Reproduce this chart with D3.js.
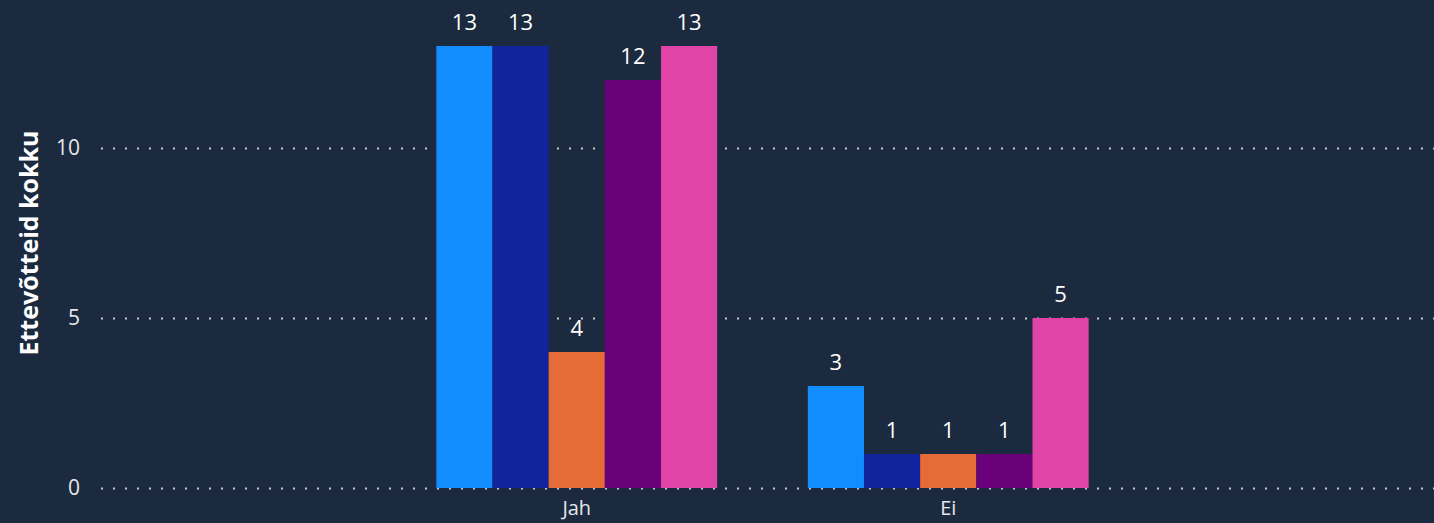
<!DOCTYPE html>
<html>
<head>
<meta charset="utf-8">
<script src="https://cdn.jsdelivr.net/npm/d3@7"></script>
<style>
  html, body { margin: 0; padding: 0; background: #1b2a3f; }
  svg { display: block; font-family: "Segoe UI", "Open Sans", "Noto Sans", sans-serif; }
</style>
</head>
<body>
<svg width="1434" height="523"></svg>
<script>
var categories = ["Jah", "Ei"];
var seriesNames = ["s1", "s2", "s3", "s4", "s5"];
var colors = ["#118dff", "#12239e", "#e66c37", "#6b007b", "#e044a7"];
var values = [
  [13, 13, 4, 12, 13],   // Jah
  [3, 1, 1, 1, 5]        // Ei
];
var yTicks = [0, 5, 10];

var svg = d3.select("svg"),
    width = +svg.attr("width"),
    height = +svg.attr("height");

var x0 = d3.scaleBand()
    .domain(categories)
    .range([391, 1134])
    .paddingInner(0.244)
    .paddingOuter(0.122);

var x1 = d3.scaleBand()
    .domain(seriesNames)
    .range([0, x0.bandwidth()]);

var y = d3.scaleLinear()
    .domain([0, 14])
    .range([488, 12]);

// grid
svg.append("g")
  .selectAll("line")
  .data(yTicks)
  .enter().append("line")
    .attr("x1", 101)
    .attr("x2", width)
    .attr("y1", function(d) { return y(d) + 0.5; })
    .attr("y2", function(d) { return y(d) + 0.5; })
    .attr("stroke", "#c8ccd2")
    .attr("stroke-width", 2)
    .attr("stroke-dasharray", "2,10");

// y tick labels
svg.append("g")
  .selectAll("text")
  .data(yTicks)
  .enter().append("text")
    .attr("x", 80)
    .attr("y", function(d) { return y(d); })
    .attr("dy", "0.35em")
    .attr("text-anchor", "end")
    .attr("fill", "#e6e8eb")
    .style("font-size", "21px")
    .text(function(d) { return d; });

// y axis title
svg.append("text")
  .attr("transform", "translate(38,243) rotate(-90)")
  .attr("text-anchor", "middle")
  .attr("fill", "#ffffff")
  .style("font-size", "25px")
  .style("font-weight", "bold")
  .text("Ettevõtteid kokku");

// bars
var groups = svg.append("g")
  .selectAll("g")
  .data(categories)
  .enter().append("g")
    .attr("transform", function(d) { return "translate(" + x0(d) + ",0)"; });

groups.selectAll("rect")
  .data(function(d, i) { return values[i].map(function(v, j) { return {key: seriesNames[j], value: v, color: colors[j]}; }); })
  .enter().append("rect")
    .attr("x", function(d) { return x1(d.key); })
    .attr("y", function(d) { return y(d.value); })
    .attr("width", x1.bandwidth())
    .attr("height", function(d) { return y(0) - y(d.value); })
    .attr("fill", function(d) { return d.color; });

groups.selectAll("text")
  .data(function(d, i) { return values[i].map(function(v, j) { return {key: seriesNames[j], value: v}; }); })
  .enter().append("text")
    .attr("x", function(d) { return x1(d.key) + x1.bandwidth() / 2; })
    .attr("y", function(d) { return y(d.value) - 16; })
    .attr("text-anchor", "middle")
    .attr("fill", "#ffffff")
    .style("font-size", "22px")
    .text(function(d) { return d.value; });

// x labels
svg.append("g")
  .selectAll("text")
  .data(categories)
  .enter().append("text")
    .attr("x", function(d) { return x0(d) + x0.bandwidth() / 2; })
    .attr("y", 515)
    .attr("text-anchor", "middle")
    .attr("fill", "#e6e8eb")
    .style("font-size", "20px")
    .text(function(d) { return d; });
</script>
</body>
</html>
